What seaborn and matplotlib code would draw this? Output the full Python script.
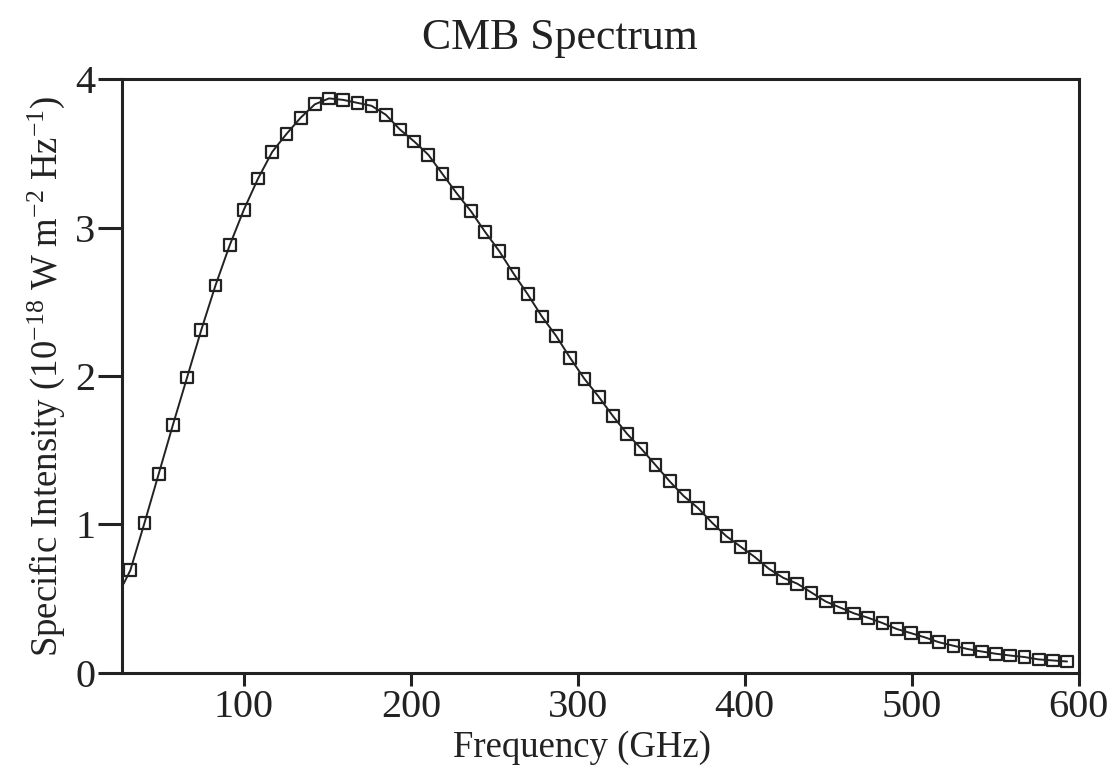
import matplotlib
matplotlib.use("Agg")
import matplotlib.pyplot as plt
import seaborn as sns
import pandas as pd

# ---- data ----
freq_ghz = [32, 40.5, 49, 57.5, 66, 74.5, 83, 91.5, 100, 108.5, 117, 125.5, 134, 142.5,
            151, 159.5, 168, 176.5, 185, 193.5, 202, 210.5, 219, 227.5, 236, 244.5, 253,
            261.5, 270, 278.5, 287, 295.5, 304, 312.5, 321, 329.5, 338, 346.5, 355, 363.5,
            372, 380.5, 389, 397.5, 406, 414.5, 423, 431.5, 440, 448.5, 457, 465.5, 474,
            482.5, 491, 499.5, 508, 516.5, 525, 533.5, 542, 550.5, 559, 567.5, 576, 584.5, 593]
intensity = [0.69, 1.01, 1.34, 1.67, 1.99, 2.31, 2.61, 2.88, 3.12, 3.33, 3.51, 3.63, 3.74, 3.83,
             3.87, 3.86, 3.84, 3.82, 3.76, 3.66, 3.58, 3.49, 3.36, 3.23, 3.11, 2.97, 2.84,
             2.69, 2.55, 2.40, 2.27, 2.12, 1.98, 1.86, 1.73, 1.61, 1.51, 1.40, 1.29, 1.19,
             1.11, 1.01, 0.92, 0.85, 0.78, 0.70, 0.64, 0.60, 0.54, 0.48, 0.44, 0.40, 0.37,
             0.335, 0.295, 0.267, 0.238, 0.205, 0.182, 0.160, 0.143, 0.128, 0.116, 0.106,
             0.090, 0.083, 0.076]
curve_start_freq = [28]
curve_start_val = [0.60]

x_ticks = [100, 200, 300, 400, 500, 600]
y_ticks = [0, 1, 2, 3, 4]
title = "CMB Spectrum"
xlabel = "Frequency (GHz)"
ylabel = "Specific Intensity (10$^{-18}$ W m$^{-2}$ Hz$^{-1}$)"

points = pd.DataFrame({"freq": freq_ghz, "I": intensity})
curve = pd.DataFrame({"freq": curve_start_freq + freq_ghz,
                      "I": curve_start_val + intensity})

sns.set_theme(style="ticks")
plt.rcParams["font.family"] = ["Liberation Serif", "DejaVu Serif"]
plt.rcParams["mathtext.fontset"] = "custom"
plt.rcParams["mathtext.rm"] = "Liberation Serif"
plt.rcParams["mathtext.it"] = "Liberation Serif:italic"
plt.rcParams["mathtext.default"] = "regular"

fig = plt.figure(figsize=(11.19, 7.68), dpi=100)
ax = fig.add_axes([0.109, 0.124, 0.855, 0.773])

sns.scatterplot(data=points, x="freq", y="I", ax=ax, marker="s", s=72,
                facecolor="none", edgecolor="#222222", linewidth=1.6, zorder=2)
sns.lineplot(data=curve, x="freq", y="I", ax=ax, color="#222222", linewidth=1.4,
             zorder=3, sort=False)

ax.set_xlim(27, 600)
ax.set_ylim(0, 4)
ax.set_xticks(x_ticks)
ax.set_yticks(y_ticks)
ax.set_xticklabels([str(t) for t in x_ticks])
ax.set_yticklabels([str(t) for t in y_ticks])

for sp in ax.spines.values():
    sp.set_visible(True)
    sp.set_linewidth(2.2)
    sp.set_color("#222222")

ax.tick_params(axis="x", direction="out", length=9, width=2.2, color="#222222",
               labelsize=29, pad=3, labelcolor="#222222")
ax.tick_params(axis="y", direction="out", length=17, width=2.2, color="#222222",
               labelsize=29, pad=2, labelcolor="#222222")

ax.set_xlabel(xlabel, fontsize=26.5, color="#222222")
ax.xaxis.set_label_coords(0.481, -0.097)
ax.set_ylabel(ylabel, fontsize=26.5, color="#222222", labelpad=6)
fig.text(0.5, 0.95, title, ha="center", va="center", fontsize=31.5, color="#222222")

fig.savefig("out.png", dpi=100)
